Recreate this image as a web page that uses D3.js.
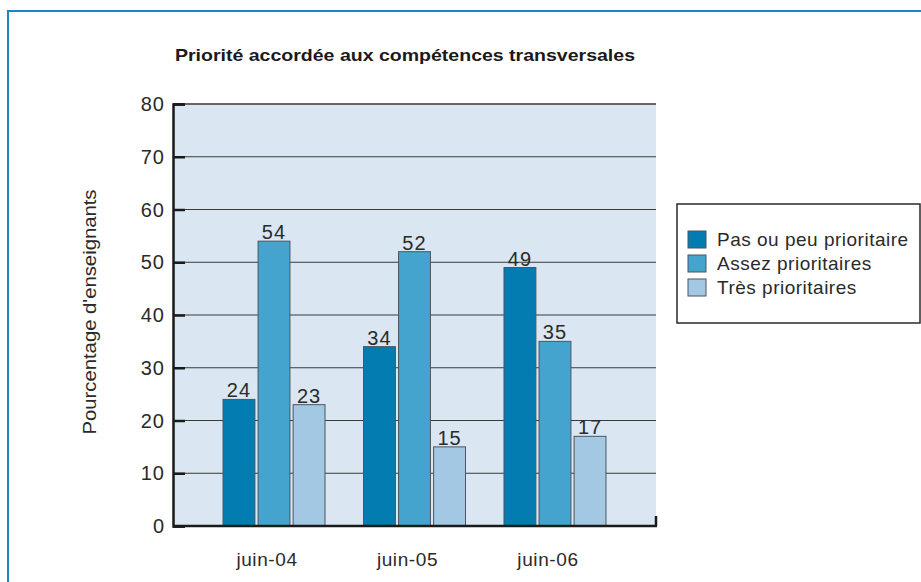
<!DOCTYPE html>
<html>
<head>
<meta charset="utf-8">
<script src="https://cdn.jsdelivr.net/npm/d3@7"></script>
<style>
  body { margin: 0; background: #fff; }
  svg { display: block; font-family: 'Liberation Sans', Arial, sans-serif; }
</style>
</head>
<body>
<svg width="921" height="582"></svg>
<script>

// data
let categories = ['juin-04', 'juin-05', 'juin-06']
let seriesNames = ['Pas ou peu prioritaire', 'Assez prioritaires', 'Très prioritaires']
let pasOuPeu = [24, 34, 49]
let assez = [54, 52, 35]
let tres = [23, 15, 17]
let yTicks = [0, 10, 20, 30, 40, 50, 60, 70, 80]

let colors = ['#037cb2', '#44a4ce', '#a2c8e3']

let series = [pasOuPeu, assez, tres]
let rows = categories.map((c, i) => ({
  cat: c,
  vals: series.map((s, k) => ({ key: seriesNames[k], value: s[i], k: k }))
}))

let svg = d3.select('svg')

// outer frame
svg.append('rect')
  .attr('x', 8).attr('y', 11)
  .attr('width', 940).attr('height', 600)
  .attr('fill', 'none')
  .attr('stroke', '#1a87c3')
  .attr('stroke-width', 2)

let pLeft = 173, pRight = 656, pTop = 104, pBottom = 526

let y = d3.scaleLinear().domain([0, 80]).range([pBottom, pTop])

let x0 = d3.scaleBand()
  .domain(categories)
  .range([pLeft, pRight])
  .paddingInner(0.274)
  .paddingOuter(0.356)

let x1 = d3.scaleBand()
  .domain(seriesNames)
  .range([0, x0.bandwidth()])
  .paddingInner(0.09)

// plot background
svg.append('rect')
  .attr('x', pLeft).attr('y', pTop)
  .attr('width', pRight - pLeft).attr('height', pBottom - pTop)
  .attr('fill', '#dae7f2')

// gridlines
svg.append('g')
  .selectAll('line')
  .data(yTicks.filter(d => d > 0))
  .enter().append('line')
  .attr('x1', pLeft).attr('x2', pRight)
  .attr('y1', d => y(d)).attr('y2', d => y(d))
  .attr('stroke', d => d === 80 ? '#666' : '#3a3a3a')
  .attr('stroke-width', d => d === 80 ? 2 : 1)

// bars
let group = svg.append('g')
  .selectAll('g')
  .data(rows)
  .enter().append('g')
  .attr('transform', d => `translate(${x0(d.cat)},0)`)

group.selectAll('rect')
  .data(d => d.vals)
  .enter().append('rect')
  .attr('x', d => x1(d.key))
  .attr('y', d => y(d.value))
  .attr('width', x1.bandwidth())
  .attr('height', d => pBottom - y(d.value))
  .attr('fill', d => colors[d.k])
  .attr('stroke', '#4d5560')
  .attr('stroke-width', 1)

group.selectAll('text')
  .data(d => d.vals)
  .enter().append('text')
  .attr('x', d => x1(d.key) + x1.bandwidth() / 2)
  .attr('y', d => y(d.value) - 2)
  .attr('text-anchor', 'middle')
  .attr('font-size', 20)
  .attr('letter-spacing', 1)
  .attr('fill', '#2a2a2a')
  .text(d => d.value)

// y axis
let yAxis = d3.axisRight(y).tickValues(yTicks).tickSize(12).tickFormat('')
let ya = svg.append('g').attr('transform', `translate(${pLeft},0)`).call(yAxis)
ya.select('.domain').attr('stroke', '#1a1a1a').attr('stroke-width', 2.5)
ya.selectAll('.tick line').attr('stroke', '#1a1a1a').attr('stroke-width', 2.5)

svg.append('g')
  .selectAll('text')
  .data(yTicks)
  .enter().append('text')
  .attr('x', 165)
  .attr('y', d => y(d) + 7)
  .attr('text-anchor', 'end')
  .attr('font-size', 20)
  .attr('letter-spacing', 1)
  .attr('fill', '#2a2a2a')
  .text(d => d)

// x axis
svg.append('line')
  .attr('x1', pLeft).attr('x2', pRight + 1)
  .attr('y1', pBottom).attr('y2', pBottom)
  .attr('stroke', '#1a1a1a').attr('stroke-width', 2.5)
svg.append('line')
  .attr('x1', pRight).attr('x2', pRight)
  .attr('y1', pBottom).attr('y2', pBottom - 10)
  .attr('stroke', '#1a1a1a').attr('stroke-width', 2.5)

svg.append('g')
  .selectAll('text')
  .data(categories)
  .enter().append('text')
  .attr('x', d => x0(d) + x0.bandwidth() / 2 - 7)
  .attr('y', 566)
  .attr('text-anchor', 'middle')
  .attr('font-size', 19)
  .attr('letter-spacing', 0.6)
  .attr('fill', '#2a2a2a')
  .text(d => d)

// axis title
svg.append('text')
  .attr('transform', 'translate(96,312) rotate(-90)')
  .attr('text-anchor', 'middle')
  .attr('font-size', 18)
  .attr('textLength', 245)
  .attr('lengthAdjust', 'spacingAndGlyphs')
  .attr('fill', '#2a2a2a')
  .text("Pourcentage d'enseignants")

// chart title
svg.append('text')
  .attr('x', 175).attr('y', 61)
  .attr('font-family', "'Liberation Sans Narrow', 'Liberation Sans', Arial, sans-serif")
  .attr('font-weight', 'bold')
  .attr('font-size', 17)
  .attr('textLength', 460)
  .attr('lengthAdjust', 'spacingAndGlyphs')
  .attr('fill', '#1a1a1a')
  .text('Priorité accordée aux compétences transversales')

// legend
svg.append('rect')
  .attr('x', 677).attr('y', 204)
  .attr('width', 243).attr('height', 119)
  .attr('fill', '#fff')
  .attr('stroke', '#2a2a2a')
  .attr('stroke-width', 1.5)

let legend = svg.append('g')
  .selectAll('g')
  .data(seriesNames)
  .enter().append('g')
  .attr('transform', (d, i) => `translate(688,${231 + i * 24})`)

legend.append('rect')
  .attr('width', 18).attr('height', 17)
  .attr('fill', (d, i) => colors[i])
  .attr('stroke', '#4d5560')

legend.append('text')
  .attr('x', 29).attr('y', 15)
  .attr('font-size', 19)
  .attr('letter-spacing', 0.5)
  .attr('fill', '#2a2a2a')
  .text(d => d)

</script>
</body>
</html>
